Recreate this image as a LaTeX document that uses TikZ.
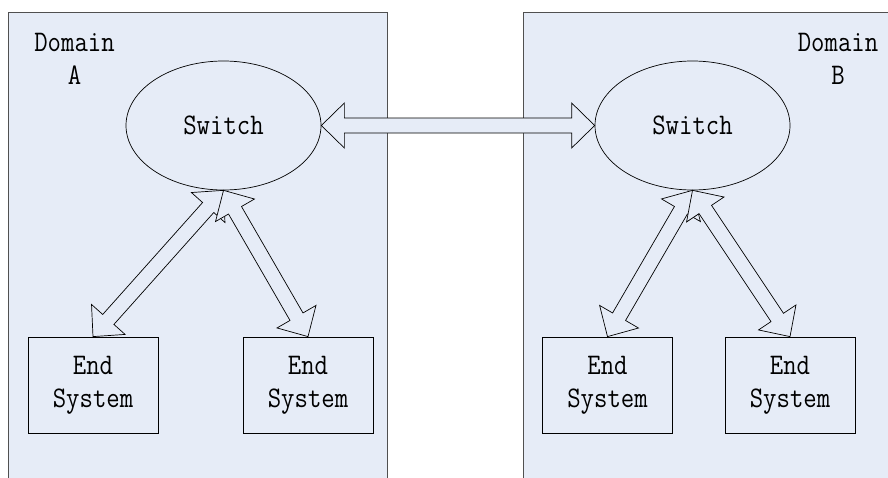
\documentclass[tikz,border=0pt]{standalone}
\usetikzlibrary{shapes.geometric,calc}
\definecolor{bluefill}{HTML}{E6ECF7}
\definecolor{edgegray}{HTML}{505050}
% narrow-looking monospaced labels, slightly stretched vertically
\newcommand{\tallbox}[1]{\scalebox{1}[1.15]{#1}}
\newcommand{\headlen}{23pt}
\newcommand{\headhw}{22.5pt}
\newcommand{\shafthw}{7.5pt}
% hollow double-headed block arrow between two points
\newcommand{\dblblock}[2]{%
  \coordinate (ba1) at ($(#1)!\headlen!(#2)$);
  \coordinate (ba2) at ($(#2)!\headlen!(#1)$);
  \filldraw[blockarrow] (#1)
    -- ($(ba1)!\headhw!90:(#2)$)
    -- ($(ba1)!\shafthw!90:(#2)$)
    -- ($(ba2)!\shafthw!-90:(#1)$)
    -- ($(ba2)!\headhw!-90:(#1)$)
    -- (#2)
    -- ($(ba2)!\headhw!90:(#1)$)
    -- ($(ba2)!\shafthw!90:(#1)$)
    -- ($(ba1)!\shafthw!-90:(#2)$)
    -- ($(ba1)!\headhw!-90:(#2)$)
    -- cycle;}
\begin{document}
\begin{tikzpicture}[x=1pt,y=-1pt,
  every node/.style={font=\fontsize{26}{33}\selectfont\ttfamily},
  domainbox/.style={draw=edgegray,fill=bluefill,line width=0.9pt,inner sep=0pt},
  switchnode/.style={ellipse,draw=black,fill=bluefill,line width=0.7pt,
    minimum width=195pt,minimum height=129pt,inner sep=0pt},
  endsys/.style={rectangle,draw=black,fill=bluefill,line width=0.8pt,
    minimum width=130pt,minimum height=96pt,inner sep=0pt,align=center},
  domlabel/.style={inner sep=0pt,align=center},
  blockarrow/.style={draw=black,fill=bluefill,line width=0.7pt,line join=miter}]
\useasboundingbox (0,0) rectangle (888,477);
\clip (0,0) rectangle (888,477);
\fill[white] (0,0) rectangle (888,477);

% the two domains
\node[domainbox,minimum width=379pt,minimum height=488pt] (domA) at (197.5,256) {};
\node[domainbox,minimum width=377pt,minimum height=488pt] (domB) at (711.5,256) {};
\node[domlabel] (labA) at (74.5,58.5) {\tallbox{Domain}\\\tallbox{A}};
\node[domlabel] (labB) at (838,58.5) {\tallbox{Domain}\\\tallbox{B}};

% switches
\node[switchnode] (swA) at (223.5,125.5) {\tallbox{Switch}};
\node[switchnode] (swB) at (692.5,125.5) {\tallbox{Switch}};

% end systems
\node[endsys] (esA1) at (93,385) {\tallbox{End}\\\tallbox{System}};
\node[endsys] (esA2) at (308,385) {\tallbox{End}\\\tallbox{System}};
\node[endsys] (esB1) at (607.5,385) {\tallbox{End}\\\tallbox{System}};
\node[endsys] (esB2) at (790,385) {\tallbox{End}\\\tallbox{System}};

% links
\dblblock{swA.east}{swB.west}
\dblblock{swA.south}{esA1.north}
\dblblock{swA.south}{esA2.north}
\dblblock{swB.south}{esB1.north}
\dblblock{swB.south}{esB2.north}
\end{tikzpicture}
\end{document}
